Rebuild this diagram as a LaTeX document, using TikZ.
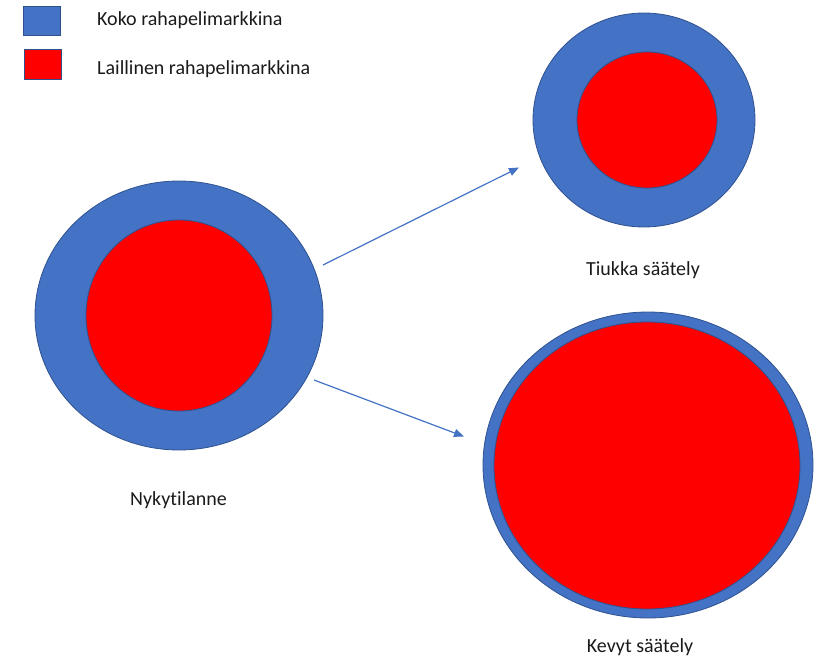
\documentclass[tikz,border=0pt]{standalone}
\usepackage{fontspec}
\setmainfont{Carlito}[Ligatures=NoCommon]
\usetikzlibrary{shapes.geometric,arrows.meta}
\definecolor{mktblue}{HTML}{4472C4}
\definecolor{mktred}{HTML}{FF0000}
\definecolor{mktedge}{HTML}{2F528F}
\definecolor{txtgray}{HTML}{1A1A1A}
\tikzset{
  outerc/.style={ellipse, draw=mktedge, line width=0.8pt, fill=mktblue, inner sep=0pt},
  innerc/.style={ellipse, draw=mktedge, line width=0.8pt, fill=mktred, inner sep=0pt},
  legbox/.style={draw=mktedge, line width=0.8pt, inner sep=0pt},
  lbl/.style={font=\fontsize{20}{22}\selectfont, text=txtgray, inner sep=0pt},
  flow/.style={draw=mktblue, line width=1.2pt, -{Triangle[length=10pt,width=8pt]}}
}
\begin{document}
\begin{tikzpicture}[x=1pt,y=-1pt]
\useasboundingbox (0,0) rectangle (823,656);
% legend
\node[legbox, fill=mktblue, minimum width=37pt, minimum height=29pt] (legblue) at (41.5,20.5) {};
\node[legbox, fill=mktred, minimum width=37pt, minimum height=30pt] (legred) at (42.5,64) {};
\node[lbl, anchor=base west] (legbluetxt) at (97,25.5) {Koko rahapelimarkkina};
\node[lbl, anchor=base west] (legredtxt) at (97,74) {Laillinen rahapelimarkkina};
% left: current
\node[outerc, minimum width=288pt, minimum height=269pt] (nowout) at (179,315.5) {};
\node[innerc, minimum width=186pt, minimum height=191pt] (nowin) at (179,315.5) {};
\node[lbl, anchor=base] (nowtxt) at (178.5,505) {Nykytilanne};
% top right: strict
\node[outerc, minimum width=222pt, minimum height=214pt] (strout) at (644,120) {};
\node[innerc, minimum width=140pt, minimum height=136pt] (strin) at (647,120) {};
\node[lbl, anchor=base] (strtxt) at (643,275) {Tiukka säätely};
% bottom right: light
\node[outerc, minimum width=330pt, minimum height=306pt] (ligout) at (648,465) {};
\node[innerc, minimum width=306pt, minimum height=287pt] (ligin) at (647,465.5) {};
\node[lbl, anchor=base] (ligtxt) at (640,652) {Kevyt säätely};
% arrows
\coordinate (a1s) at (323,265);
\coordinate (a1e) at (519,167.5);
\coordinate (a2s) at (314,380);
\coordinate (a2e) at (464,436.5);
\draw[flow] (a1s) -- (a1e);
\draw[flow] (a2s) -- (a2e);
\end{tikzpicture}
\end{document}
